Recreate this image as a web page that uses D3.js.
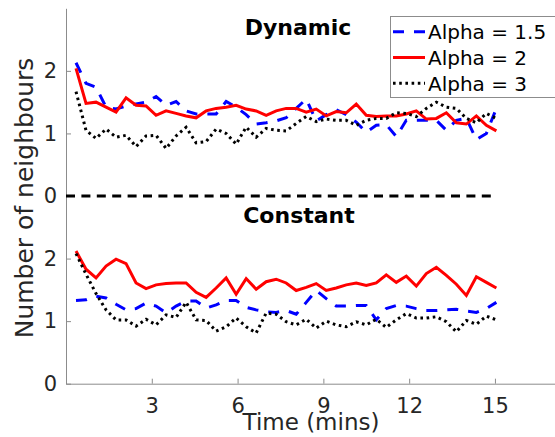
<!DOCTYPE html>
<html>
<head>
<meta charset="utf-8">
<script src="https://cdnjs.cloudflare.com/ajax/libs/d3/7.8.5/d3.min.js"></script>
<style>
  body { margin: 0; background: #fff; }
  svg { font-family: "DejaVu Sans", sans-serif; }
</style>
</head>
<body>
<div class="gv-chart"></div>
<script>
var times = [0.35, 0.7, 1.05, 1.4, 1.75, 2.1, 2.45, 2.8, 3.15, 3.5, 3.85, 4.2, 4.55, 4.9, 5.25,
  5.6, 5.95, 6.3, 6.65, 7.0, 7.35, 7.7, 8.05, 8.4, 8.75, 9.1, 9.45, 9.8, 10.15, 10.5, 10.85,
  11.2, 11.55, 11.9, 12.25, 12.6, 12.95, 13.3, 13.65, 14.0, 14.35, 14.7, 15.05]

var dynamicA15 = [2.13, 1.80, 1.74, 1.42, 1.39, 1.44, 1.47, 1.50, 1.59, 1.45, 1.51, 1.36, 1.31, 1.31, 1.31,
  1.51, 1.42, 1.30, 1.15, 1.17, 1.20, 1.25, 1.40, 1.55, 1.20, 1.30, 1.38, 1.30, 1.18, 1.02, 1.13,
  1.14, 0.95, 1.21, 1.21, 1.21, 1.21, 1.05, 1.21, 1.24, 0.90, 1.00, 1.40]
var dynamicA2 = [2.04, 1.48, 1.50, 1.42, 1.34, 1.57, 1.45, 1.44, 1.29, 1.36, 1.32, 1.28, 1.25, 1.36, 1.40,
  1.42, 1.45, 1.39, 1.36, 1.29, 1.36, 1.40, 1.40, 1.34, 1.39, 1.28, 1.35, 1.33, 1.47, 1.29, 1.27,
  1.28, 1.28, 1.31, 1.36, 1.23, 1.24, 1.33, 1.17, 1.15, 1.28, 1.13, 1.04]
var dynamicA3 = [1.67, 1.05, 0.92, 1.07, 0.94, 0.97, 0.79, 0.96, 0.97, 0.76, 0.96, 1.10, 0.85, 0.87, 1.07,
  1.00, 0.83, 1.10, 0.94, 1.08, 1.05, 1.04, 1.16, 1.27, 1.19, 1.23, 1.21, 1.21, 1.13, 1.21, 1.24,
  1.24, 1.33, 1.32, 1.27, 1.40, 1.50, 1.42, 1.40, 1.24, 1.17, 1.32, 1.24]

var constantA15 = [1.33, 1.34, 1.40, 1.37, 1.27, 1.18, 1.20, 1.29, 1.24, 1.13, 1.24, 1.32, 1.32, 1.21, 1.26,
  1.33, 1.33, 1.22, 1.18, 1.15, 1.14, 1.17, 1.11, 1.30, 1.49, 1.36, 1.24, 1.24, 1.25, 1.25, 1.02,
  1.20, 1.25, 1.24, 1.20, 1.17, 1.17, 1.18, 1.19, 1.16, 1.14, 1.20, 1.30]
var constantA2 = [2.12, 1.83, 1.69, 1.88, 1.99, 1.92, 1.61, 1.52, 1.58, 1.60, 1.61, 1.61, 1.46, 1.38, 1.53,
  1.69, 1.43, 1.68, 1.51, 1.63, 1.67, 1.61, 1.49, 1.54, 1.60, 1.49, 1.53, 1.58, 1.61, 1.57, 1.61,
  1.74, 1.62, 1.72, 1.56, 1.76, 1.86, 1.73, 1.59, 1.41, 1.71, 1.62, 1.53]
var constantA3 = [2.08, 1.75, 1.44, 1.18, 1.02, 1.02, 0.92, 1.03, 0.94, 1.10, 1.06, 1.30, 1.02, 1.01, 0.84,
  0.91, 1.05, 0.91, 0.81, 1.13, 1.11, 0.99, 0.94, 1.03, 0.89, 1.00, 0.94, 0.91, 0.99, 0.94, 1.03,
  0.90, 1.02, 1.12, 1.05, 1.05, 1.07, 0.99, 0.83, 1.01, 0.95, 1.08, 1.02]

var seriesNames = ["Alpha = 1.5", "Alpha = 2", "Alpha = 3"]
var xTicks = [3, 6, 9, 12, 15]
var yTicks = [0, 1, 2, 3, 4, 5]
var yTickLabels = ["0", "1", "2", "0", "1", "2"]
var panelTitles = ["Dynamic", "Constant"]

var width = 555, height = 437
var offset = 3   // dynamic panel sits on top of the constant one

var styles = [
  { colour: "#0000ff", dash: "11,10" },
  { colour: "#ff0000", dash: null },
  { colour: "#000000", dash: "2.6,3.6" }
]

var svg = d3.select(".gv-chart").append("svg")
  .attr("width", width)
  .attr("height", height)

var x = d3.scaleLinear().domain([0, 17.1]).range([66, 555])
var y = d3.scaleLinear().domain([0, 6]).range([383.7, 8.3])

var axisGrey = "#8c8c8c"

var xAxis = svg.append("g")
  .attr("transform", "translate(0," + y(0) + ")")
  .call(d3.axisBottom(x).tickValues(xTicks).tickSizeInner(-5).tickSizeOuter(0).tickPadding(14).tickFormat(d3.format("d")))
xAxis.select(".domain").attr("stroke", axisGrey)
xAxis.selectAll(".tick line").attr("stroke", axisGrey)
xAxis.selectAll("text").attr("font-size", "21px").attr("fill", "#262626").attr("font-family", "DejaVu Sans")

var yAxis = svg.append("g")
  .attr("transform", "translate(" + x(0) + ",0)")
  .call(d3.axisLeft(y).tickValues(yTicks).tickSizeInner(-5).tickSizeOuter(0).tickPadding(9)
    .tickFormat((d, i) => yTickLabels[i]))
yAxis.select(".domain").attr("stroke", axisGrey)
yAxis.selectAll(".tick line").attr("stroke", axisGrey)
yAxis.selectAll("text").attr("font-size", "21px").attr("fill", "#262626").attr("font-family", "DejaVu Sans")

// separator between the two panels
svg.append("line")
  .attr("x1", x(0)).attr("x2", x(15))
  .attr("y1", y(offset)).attr("y2", y(offset))
  .attr("stroke", "#000")
  .attr("stroke-width", 3)
  .attr("stroke-dasharray", "9,6.4")

var line = d3.line()
  .x((d, i) => x(times[i]))
  .y(d => y(d))

var upper = [dynamicA15, dynamicA2, dynamicA3]
var lower = [constantA15, constantA2, constantA3]

var lines = svg.append("g").attr("fill", "none")
upper.forEach((s, k) => {
  lines.append("path")
    .attr("d", line(s.map(v => v + offset)))
    .attr("stroke", styles[k].colour)
    .attr("stroke-width", 3)
    .attr("stroke-dasharray", styles[k].dash)
})
lower.forEach((s, k) => {
  lines.append("path")
    .attr("d", line(s))
    .attr("stroke", styles[k].colour)
    .attr("stroke-width", 3)
    .attr("stroke-dasharray", styles[k].dash)
})

svg.append("text")
  .attr("x", 298).attr("y", 35)
  .attr("text-anchor", "middle")
  .attr("font-size", "22px").attr("font-weight", "bold")
  .text(panelTitles[0])

svg.append("text")
  .attr("x", 299).attr("y", 223)
  .attr("text-anchor", "middle")
  .attr("font-size", "22px").attr("font-weight", "bold")
  .text(panelTitles[1])

svg.append("text")
  .attr("transform", "translate(33,198) rotate(-90)")
  .attr("text-anchor", "middle")
  .attr("font-size", "25px").attr("fill", "#262626")
  .text("Number of neighbours")

svg.append("text")
  .attr("x", 311).attr("y", 430)
  .attr("text-anchor", "middle")
  .attr("font-size", "23px").attr("fill", "#262626")
  .text("Time (mins)")

var legend = svg.append("g")
legend.append("rect")
  .attr("x", 390.5).attr("y", 16.5)
  .attr("width", 170).attr("height", 81)
  .attr("fill", "#fff")
  .attr("stroke", "#8c8c8c")

var rows = legend.selectAll("g.row")
  .data(seriesNames)
  .enter()
  .append("g")
  .attr("class", "row")
  .attr("transform", (d, i) => "translate(0," + (31.7 + i * 25.8) + ")")

rows.append("line")
  .attr("x1", 393).attr("x2", 425)
  .attr("stroke", (d, i) => styles[i].colour)
  .attr("stroke-width", 3)
  .attr("stroke-dasharray", (d, i) => styles[i].dash)

rows.append("text")
  .attr("x", 428).attr("y", 7.3)
  .attr("font-size", "20px")
  .text(d => d)
</script>
</body>
</html>
